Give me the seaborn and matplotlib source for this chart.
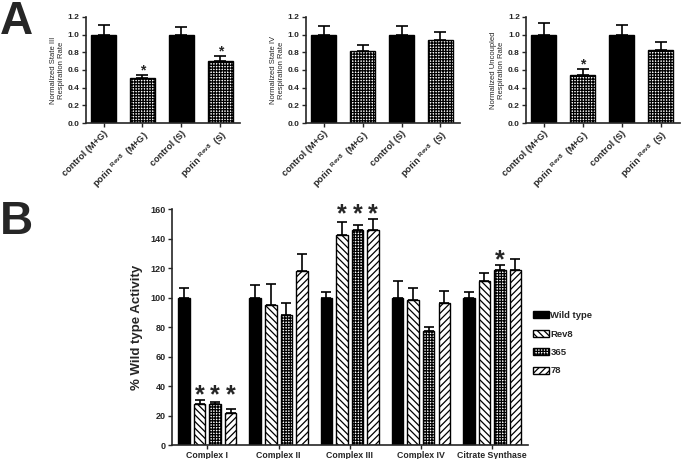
import numpy as np
import pandas as pd
import matplotlib
matplotlib.use("Agg")
import matplotlib.pyplot as plt
import seaborn as sns

sns.set_style("ticks")
plt.rcParams['font.family'] = ['Liberation Sans', 'DejaVu Sans']
plt.rcParams['font.weight'] = 'bold'
plt.rcParams['axes.labelweight'] = 'bold'
plt.rcParams['mathtext.fontset'] = 'custom'
plt.rcParams['mathtext.rm'] = 'Liberation Sans:bold'
plt.rcParams['mathtext.bf'] = 'Liberation Sans:bold'
plt.rcParams['hatch.linewidth'] = 0.9
plt.rcParams['axes.linewidth'] = 1.2

# ---- panel A data (normalized respiration rates) ----
conditions = ['control (M+G)', 'porin Rev8 (M+G)', 'control (S)', 'porin Rev8 (S)']
cond_labels = ['control (M+G)', r'porin $^{\mathbf{Rev8}}$  (M+G)',
               'control (S)', r'porin $^{\mathbf{Rev8}}$  (S)']
state3_mean = [1.0, 0.51, 1.0, 0.70]
state3_err = [0.11, 0.035, 0.085, 0.06]
state4_mean = [1.0, 0.81, 1.0, 0.935]
state4_err = [0.10, 0.075, 0.095, 0.10]
uncoupled_mean = [1.0, 0.545, 1.0, 0.83]
uncoupled_err = [0.135, 0.07, 0.105, 0.085]
state3_sig = [1, 3]
state4_sig = []
uncoupled_sig = [1]

# ---- panel B data (% wild type activity) ----
complexes = ['Complex I', 'Complex II', 'Complex III', 'Complex IV', 'Citrate Synthase']
strains = ['Wild type', 'Rev8', '365', '78']
wt_mean = [100, 100, 100, 100, 100]
wt_err = [6.5, 8.5, 4, 11, 3.5]
rev8_mean = [28, 95, 142.5, 98, 111.5]
rev8_err = [2.5, 14, 8.5, 8.5, 5]
s365_mean = [27.5, 88, 145.5, 77.5, 119]
s365_err = [2, 8, 4, 2.5, 3]
s78_mean = [22, 118, 145.5, 96.5, 118.5]
s78_err = [2.5, 11.5, 7.5, 8, 7.5]
# (strain index, complex index) pairs marked significant
sig_b = [(1, 0), (2, 0), (3, 0), (1, 2), (2, 2), (3, 2), (2, 4)]

checker = '++++++'
hatches = [None, '\\\\\\\\\\', checker, '/////']

fig = plt.figure(figsize=(6.85, 4.59), dpi=100)


def star(ax, x, y, size, offset):
    # asterisk sits high in the glyph box, so anchor on the baseline
    ax.annotate('*', xy=(x, y), xytext=(0, offset), textcoords='offset points',
                ha='center', va='baseline', fontsize=size, fontweight='bold')


def panel_a(left, means, errs, sig, ylabel):
    ax = fig.add_axes([left, 0.732, 0.2248, 0.231])
    df = pd.DataFrame({'cond': conditions, 'rate': means})
    sns.barplot(data=df, x='cond', y='rate', color='black', saturation=1,
                width=0.65, errorbar=None, edgecolor='black', linewidth=1.0, ax=ax)
    for i, bar in enumerate(ax.patches):
        if i % 2 == 1:
            bar.set_facecolor('white')
            bar.set_hatch(checker)
    xs = [b.get_x() + b.get_width() / 2 for b in ax.patches]
    hs = [b.get_height() for b in ax.patches]
    ax.errorbar(xs, hs, yerr=[np.zeros(len(errs)), errs], fmt='none', ecolor='black',
                elinewidth=1.2, capsize=4.5, capthick=1.2)
    for i in sig:
        star(ax, xs[i], hs[i] + errs[i], 10, 0.0)
    ax.set_ylim(0, 1.2)
    ax.set_xlim(-0.45, 3.5)
    ax.set_yticks(np.arange(0, 1.21, 0.2))
    ax.set_yticklabels(['%.1f' % v for v in np.arange(0, 1.21, 0.2)], fontsize=6)
    ax.set_xticks(range(4))
    ax.set_xticklabels(cond_labels, rotation=45, ha='right', rotation_mode='anchor', fontsize=6.6)
    ax.set_xlabel('')
    ax.set_ylabel(ylabel, fontsize=5.5, fontweight='normal', labelpad=2)
    ax.tick_params(length=3, width=1.0, pad=1.5)
    sns.despine(ax=ax)
    return ax


panel_a(0.1255, state3_mean, state3_err, state3_sig, 'Normalized State III\nRespiration Rate')
panel_a(0.4467, state4_mean, state4_err, state4_sig, 'Normalized State IV\nRespiration Rate')
panel_a(0.768, uncoupled_mean, uncoupled_err, uncoupled_sig, 'Normalized Uncoupled\nRespiration Rate')

# ---- panel B ----
axb = fig.add_axes([0.2507, 0.0305, 0.5197, 0.514])
all_means = [wt_mean, rev8_mean, s365_mean, s78_mean]
all_errs = [wt_err, rev8_err, s365_err, s78_err]
dfb = pd.DataFrame({
    'complex': np.tile(complexes, len(strains)),
    'strain': np.repeat(strains, len(complexes)),
    'activity': np.concatenate(all_means),
})
sns.barplot(data=dfb, x='complex', y='activity', hue='strain', hue_order=strains,
            palette=['black', 'white', 'white', 'white'], saturation=1,
            width=0.875, gap=0.26, errorbar=None, edgecolor='black', linewidth=1.0,
            legend=False, ax=axb)
bar_groups = list(axb.containers)
for j, cont in enumerate(bar_groups):
    for bar in cont:
        if hatches[j]:
            bar.set_hatch(hatches[j])
    xs = [b.get_x() + b.get_width() / 2 for b in cont]
    hs = [b.get_height() for b in cont]
    axb.errorbar(xs, hs, yerr=[np.zeros(len(hs)), all_errs[j]], fmt='none', ecolor='black',
                 elinewidth=1.2, capsize=3.5, capthick=1.2)
# stars in one group share a common height above the tallest starred error bar
tops = {}
for j, k in sig_b:
    tops[k] = max(tops.get(k, 0), all_means[j][k] + all_errs[j][k])
for j, k in sig_b:
    bar = bar_groups[j][k]
    star(axb, bar.get_x() + bar.get_width() / 2, tops[k], 18, -1.5)

axb.set_ylim(0, 160)
axb.set_xlim(-0.5, 4.5)
axb.set_yticks(range(0, 161, 20))
axb.tick_params(axis='y', labelsize=6.5, length=3, width=1.0, pad=1.5)
axb.tick_params(axis='x', labelsize=6.3, length=3, width=1.0, pad=1.5)
axb.set_xlabel('')
axb.set_ylabel('% Wild type Activity', fontsize=9.5, labelpad=5)
sns.despine(ax=axb)
axb.legend(bar_groups, strains, loc='center left', bbox_to_anchor=(0.778, 0.252),
           bbox_transform=fig.transFigure, frameon=False, fontsize=6.8, handlelength=1.7,
           handleheight=0.8, handletextpad=0.15, labelspacing=1.0, borderpad=0,
           borderaxespad=0)

fig.text(0.0, 1.0, 'A', fontsize=33, fontweight='bold', ha='left', va='top')
fig.text(0.0, 0.565, 'B', fontsize=33, fontweight='bold', ha='left', va='top')

fig.savefig('out.png', dpi=100)
